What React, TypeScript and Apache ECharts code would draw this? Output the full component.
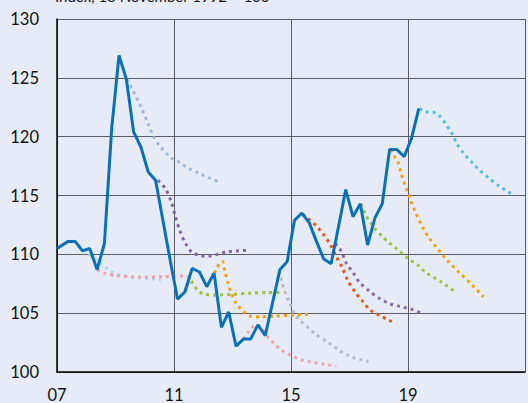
import React, { useEffect, useRef } from "react";
import * as echarts from "echarts";

const xTicks = [2007, 2011, 2015, 2019];
const yTicks = [100, 105, 110, 115, 120, 125, 130];
const titleText = "Index, 18 November 1992 = 100";

const outcomeDates = [
  2007.0, 2007.38, 2007.62, 2007.87, 2008.12, 2008.37, 2008.62, 2008.87, 2009.12, 2009.37,
  2009.62, 2009.87, 2010.12, 2010.37, 2010.62, 2010.87, 2011.12, 2011.37, 2011.62, 2011.87,
  2012.12, 2012.37, 2012.62, 2012.87, 2013.12, 2013.37, 2013.62, 2013.87, 2014.12, 2014.37,
  2014.62, 2014.87, 2015.12, 2015.37, 2015.62, 2015.87, 2016.12, 2016.37, 2016.62, 2016.87,
  2017.12, 2017.37, 2017.62, 2017.87, 2018.12, 2018.37, 2018.62, 2018.87, 2019.12, 2019.37,
];
const outcomeValues = [
  110.5, 111.1, 111.1, 110.3, 110.5, 108.7, 110.9, 120.7, 126.9, 124.9,
  120.4, 119.1, 117.0, 116.3, 112.9, 109.5, 106.2, 106.8, 108.8, 108.5,
  107.25, 108.4, 103.8, 105.1, 102.2, 102.8, 102.8, 104.0, 103.1, 105.9,
  108.7, 109.4, 112.9, 113.5, 112.7, 111.1, 109.6, 109.2, 112.3, 115.5,
  113.2, 114.3, 110.8, 113.1, 114.3, 118.9, 118.9, 118.3, 119.85, 122.4,
];

const fcPaleCyan = [[2007.55, 111.2], [2007.85, 110.5], [2008.1, 110.0], [2008.35, 109.5], [2008.6, 109.0], [2008.9, 108.5], [2009.2, 108.25], [2009.5, 108.1], [2009.9, 108.0], [2010.3, 107.9], [2010.55, 107.8]];
const fcPink1 = [[2008.37, 108.7], [2008.62, 108.4], [2009.0, 108.2], [2009.5, 108.1], [2010.0, 108.05], [2010.6, 108.1], [2011.2, 108.15], [2011.55, 108.1]];
const fcLavender = [[2009.4, 124.9], [2009.6, 123.9], [2009.86, 122.6], [2010.1, 121.2], [2010.3, 120.0], [2010.55, 119.1], [2010.9, 118.2], [2011.2, 117.8], [2011.5, 117.3], [2011.85, 116.9], [2012.2, 116.5], [2012.5, 116.2]];
const fcPurple1 = [[2010.45, 116.3], [2010.7, 115.6], [2010.9, 114.5], [2011.05, 113.2], [2011.2, 112.0], [2011.4, 110.9], [2011.6, 110.2], [2011.9, 109.9], [2012.2, 109.85], [2012.5, 110.0], [2012.8, 110.2], [2013.2, 110.3], [2013.6, 110.35]];
const fcGreen1 = [[2011.4, 106.9], [2011.55, 107.85], [2011.7, 107.3], [2011.85, 106.85], [2012.05, 106.6], [2012.5, 106.55], [2013.0, 106.6], [2013.6, 106.7], [2014.2, 106.75], [2014.6, 106.75]];
const fcOrange1 = [[2012.38, 108.4], [2012.45, 108.8], [2012.57, 109.25], [2012.66, 109.4], [2012.74, 108.5], [2012.83, 107.7], [2012.96, 106.7], [2013.13, 105.8], [2013.4, 105.1], [2013.6, 104.75], [2013.95, 104.7], [2014.5, 104.75], [2015.1, 104.85], [2015.6, 104.9]];
const fcPink2 = [[2013.37, 102.8], [2013.55, 103.4], [2013.8, 104.0], [2014.0, 103.7], [2014.2, 103.0], [2014.45, 102.35], [2014.75, 101.75], [2015.05, 101.35], [2015.4, 101.0], [2015.8, 100.8], [2016.15, 100.65], [2016.55, 100.5]];
const fcGray = [[2014.6, 108.6], [2014.7, 107.6], [2014.8, 106.8], [2014.95, 105.9], [2015.1, 105.0], [2015.3, 104.4], [2015.55, 103.85], [2015.9, 103.1], [2016.25, 102.55], [2016.7, 101.75], [2017.1, 101.25], [2017.45, 101.0], [2017.65, 100.9]];
const fcRed = [[2015.4, 113.4], [2015.55, 113.1], [2015.87, 112.4], [2016.12, 111.65], [2016.36, 110.75], [2016.54, 109.85], [2016.74, 108.95], [2016.96, 107.7], [2017.19, 106.8], [2017.45, 106.0], [2017.69, 105.3], [2018.0, 104.85], [2018.35, 104.4], [2018.55, 104.2]];
const fcPurple2 = [[2016.5, 110.9], [2016.62, 110.65], [2016.74, 110.15], [2016.9, 109.2], [2017.13, 108.4], [2017.35, 107.6], [2017.69, 106.85], [2018.03, 106.25], [2018.37, 105.8], [2018.76, 105.55], [2019.16, 105.3], [2019.55, 104.9]];
const fcGreen2 = [[2017.4, 114.3], [2017.56, 113.3], [2017.7, 112.8], [2017.86, 112.2], [2018.09, 111.6], [2018.37, 110.95], [2018.65, 110.4], [2019.0, 109.65], [2019.33, 109.1], [2019.61, 108.45], [2020.17, 107.6], [2020.51, 107.0], [2020.62, 106.8]];
const fcOrange2 = [[2018.4, 118.9], [2018.54, 118.3], [2018.65, 117.9], [2018.76, 116.9], [2018.88, 116.0], [2018.99, 115.3], [2019.1, 114.5], [2019.27, 113.5], [2019.5, 112.3], [2019.72, 111.4], [2020.0, 110.5], [2020.34, 109.5], [2020.73, 108.5], [2021.19, 107.4], [2021.58, 106.4]];
const fcCyan2 = [[2019.4, 122.4], [2019.61, 122.1], [2019.83, 122.1], [2020.06, 121.8], [2020.28, 121.1], [2020.5, 120.3], [2020.67, 119.4], [2020.9, 118.6], [2021.19, 117.8], [2021.47, 117.1], [2021.8, 116.4], [2022.14, 115.75], [2022.43, 115.3], [2022.6, 115.1]];

const forecasts: { name: string; color: string; data: number[][] }[] = [
  { name: "f1", color: "#abdbe3", data: fcPaleCyan },
  { name: "f2", color: "#eba3a8", data: fcPink1 },
  { name: "f3", color: "#a5b5d8", data: fcLavender },
  { name: "f4", color: "#8762a6", data: fcPurple1 },
  { name: "f5", color: "#9bc23c", data: fcGreen1 },
  { name: "f6", color: "#f6a10c", data: fcOrange1 },
  { name: "f7", color: "#eea3ae", data: fcPink2 },
  { name: "f8", color: "#b9bbc0", data: fcGray },
  { name: "f9", color: "#e8561c", data: fcRed },
  { name: "f10", color: "#8a6aaa", data: fcPurple2 },
  { name: "f11", color: "#9cc43e", data: fcGreen2 },
  { name: "f12", color: "#f6a10c", data: fcOrange2 },
  { name: "f13", color: "#55c1d6", data: fcCyan2 },
];

const FONT = "Lato, 'Open Sans', sans-serif";

export default function App() {
  const ref = useRef<HTMLDivElement>(null);
  useEffect(() => {
    document.body.style.margin = "0";
    const chart = echarts.init(ref.current!, null, { renderer: "svg" });
    const outcome = outcomeDates.map((d, i) => [d, outcomeValues[i]]);
    chart.setOption({
      animation: false,
      backgroundColor: "#e6ebf7",
      grid: { left: 57, right: -2, top: 19, bottom: 31 },
      graphic: [
        {
          type: "text",
          left: 55,
          top: -12,
          style: { text: titleText, fontSize: 15, fontFamily: FONT, fill: "#1a1a1a" },
        },
      ],
      xAxis: {
        type: "value",
        min: 2007,
        max: 2023,
        interval: 4,
        axisLine: { show: true, lineStyle: { color: "#000", width: 1.5 } },
        axisTick: { show: false },
        splitLine: { show: true, lineStyle: { color: "#5c5c64", width: 1 } },
        axisLabel: {
          margin: 14,
          fontSize: 16.5,
          fontFamily: FONT,
          color: "#111",
          formatter: (v: number) =>
            xTicks.includes(v) ? String(v % 100).padStart(2, "0") : "",
        },
      },
      yAxis: {
        type: "value",
        min: 100,
        max: 130,
        interval: 5,
        axisLine: { show: true, lineStyle: { color: "#000", width: 1.5 } },
        axisTick: { show: false },
        splitLine: { show: true, lineStyle: { color: "#5c5c64", width: 1 } },
        axisLabel: {
          margin: 18,
          fontSize: 16.5,
          fontFamily: FONT,
          color: "#111",
          formatter: (v: number) => (yTicks.includes(v) ? String(v) : ""),
        },
      },
      series: [
        ...forecasts.map((f) => ({
          name: f.name,
          type: "line",
          data: f.data,
          showSymbol: false,
          smooth: 0.3,
          lineStyle: { color: f.color, width: 3, type: [3, 4] },
          z: 2,
        })),
        {
          name: "outcome",
          type: "line",
          data: outcome,
          showSymbol: false,
          lineStyle: { color: "#0a71b9", width: 3 },
          z: 5,
        },
      ],
    });
    return () => chart.dispose();
  }, []);
  return <div ref={ref} style={{ width: 528, height: 403 }} />;
}
